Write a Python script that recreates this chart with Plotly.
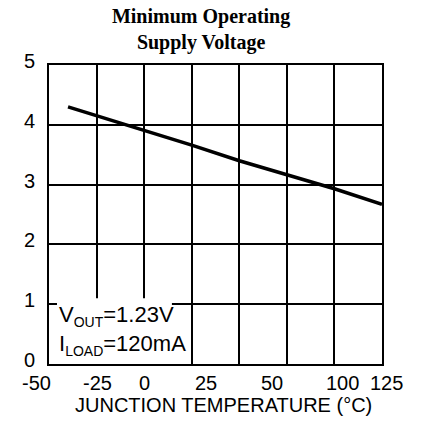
import plotly.graph_objects as go

# Data
temp_c = [-40, 0, 25, 50, 75, 100, 125]
v_min = [4.30, 3.91, 3.66, 3.40, 3.16, 2.93, 2.67]

xtick_labels = ["-50", "-25", "0", "25", "50", "100", "125"]
xtick_label_pos = [-56.5, -24.5, 0.4, 32.5, 67.0, 104.0, 127.6]

title_text = "Minimum Operating<br>Supply Voltage"
x_title = "JUNCTION TEMPERATURE (°C)"
note_lines = ['V<sub><span style="font-size:14px">OUT</span></sub>=1.23V',
              'I<sub><span style="font-size:14px">LOAD</span></sub>=120mA']

FONT = "Liberation Sans, Arial, sans-serif"
PLOT_W = 426 - 49 - 44
PLOT_H = 430 - 65 - 66
X_MIN, X_MAX = -50, 125

fig = go.Figure()
fig.add_trace(go.Scatter(x=temp_c, y=v_min, mode="lines",
                         line=dict(color="black", width=3.6),
                         showlegend=False, hoverinfo="skip"))

# white box behind the condition note
fig.add_shape(type="rect", xref="x", yref="y", x0=-45.8, x1=14.6, y0=0, y1=1.1,
              fillcolor="white", line=dict(width=0), layer="above")
fig.add_annotation(xref="x", yref="y", x=-45.6, y=0.80, xanchor="left", yanchor="middle",
                   text=note_lines[0], showarrow=False,
                   font=dict(family=FONT, size=22, color="black"))
fig.add_annotation(xref="x", yref="y", x=-45.6, y=0.31, xanchor="left", yanchor="middle",
                   text=note_lines[1], showarrow=False,
                   font=dict(family=FONT, size=22, color="black"))

# x tick labels (placed as in the reference)
for lab, pos in zip(xtick_labels, xtick_label_pos):
    fig.add_annotation(xref="paper", yref="paper",
                       x=(pos - X_MIN) / (X_MAX - X_MIN), y=-19 / PLOT_H,
                       xanchor="center", yanchor="middle", text=lab, showarrow=False,
                       font=dict(family=FONT, size=20, color="black"))

# x axis title
fig.add_annotation(xref="paper", yref="paper", x=(223 - 49) / PLOT_W, y=-41 / PLOT_H,
                   xanchor="center", yanchor="middle", text=x_title, showarrow=False,
                   font=dict(family=FONT, size=20, color="black"))

fig.update_layout(
    width=426, height=430,
    margin=dict(l=49, r=44, t=65, b=66),
    paper_bgcolor="white", plot_bgcolor="white",
    title=dict(text=title_text, x=0.472, xanchor="center", xref="container",
               y=1 - 23 / 430, yanchor="middle", yref="container",
               font=dict(family="Liberation Serif, Times New Roman, serif", size=20,
                         color="black", weight="bold")),
    xaxis=dict(range=[X_MIN, X_MAX], tick0=-50, dtick=25, showticklabels=False,
               showgrid=True, gridcolor="black", gridwidth=2, ticks="", zeroline=False,
               showline=True, linecolor="black", linewidth=2, mirror=True),
    yaxis=dict(range=[0, 5], dtick=1, tick0=0, showgrid=True, gridcolor="black",
               gridwidth=2, zeroline=False, ticks="",
               showline=True, linecolor="black", linewidth=2, mirror=True,
               tickfont=dict(family=FONT, size=20, color="black"),
               ticklabelstandoff=8, ticklabelshift=-4),
)

fig.write_html("out.html", config={"displayModeBar": False},
               post_script="document.body.style.margin='0px';")
